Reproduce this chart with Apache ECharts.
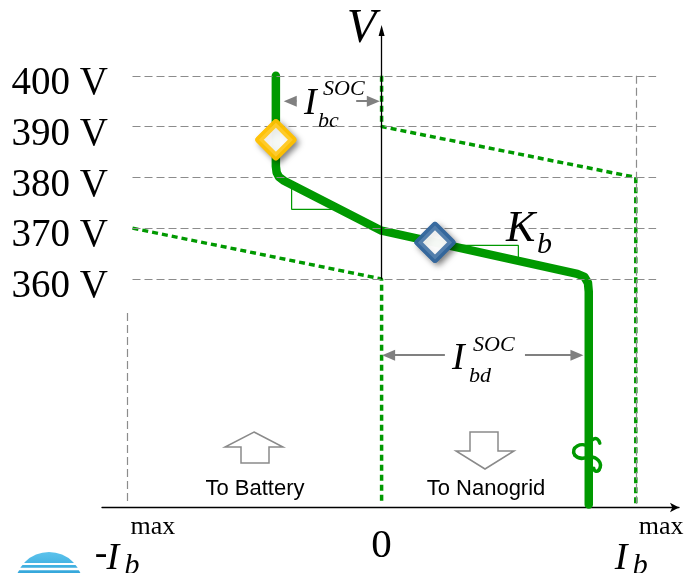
<!DOCTYPE html>
<html>
<head>
<meta charset="utf-8">
<script src="https://cdn.jsdelivr.net/npm/echarts@6/dist/echarts.min.js"></script>
<style>
  html, body { margin: 0; padding: 0; background: #fff; }
  #chart { width: 687px; height: 573px; }
</style>
</head>
<body>
<div id="chart"></div>
<script>
// Voltage tick values (V) and current ticks (±I_b^max normalised to ±100)
const voltTicks = [360, 370, 380, 390, 400];
const currentTicks = [-100, 0, 100];
const currentTickLabels = ['-I_b^max', '0', 'I_b^max'];

// Battery droop characteristic: current vs. bus voltage
const droopCurrent = [-41.6, -41.6, -41.3, -40.4, -38.6, 0, 77, 79.8, 81.2, 81.5, 81.5];
const droopVoltage = [400, 382.2, 381.0, 380.1, 379.4, 369.5, 361.0, 360.4, 359.2, 357.5, 315.6];

// Charging limit boundary (dotted, right)
const chargeLimitCurrent = [0, 0, 100, 100];
const chargeLimitVoltage = [400, 390, 380, 315.8];

// Discharging limit boundary (dotted, left)
const dischargeLimitCurrent = [-98, 0, 0];
const dischargeLimitVoltage = [370, 360, 315.8];

// Operating points (yellow, blue)
const opCurrent = [-41.6, 21];
const opVoltage = [387.4, 367.2];
const opColors = ['#FFC000', '#31659C'];

// Slope markers under the droop segments
const slopeUpperCurrent = [-35.4, -35.4, -16.8];
const slopeUpperVoltage = [378.6, 373.7, 373.7];
const slopeKbCurrent = [26, 53.8, 53.8];
const slopeKbVoltage = [366.6, 366.6, 363.5];

// Dimension arrows: [tail, tip] in current units, at a fixed voltage
const ibcVoltage = 395;
const ibcArrows = [[-33.5, -38.5], [-10, -0.7]];
const ibdVoltage = 345;
const ibdArrows = [[24.9, 0.2], [56.4, 79.4]];

// Guide extents
const guideLeft = -98, guideRight = 108;
const rightGuide = { current: 100, from: 400, to: 315.5 };
const leftGuide = { current: -100, from: 353.3, to: 315.5 };

const SERIF = '"Liberation Serif", "Times New Roman", serif';
const SANS = '"Liberation Sans", Arial, sans-serif';
const GREEN = '#009900';
const GUIDE_GRAY = '#8c8c8c';
const ARROW_GRAY = '#808080';
const PX_PER_UNIT = 577 / 227;
const HEAD = 13; // arrow head length in px

const zip = (xs, ys) => xs.map((x, i) => [x, ys[i]]);

const guideLines = voltTicks.map(v => [{ coord: [guideLeft, v] }, { coord: [guideRight, v] }])
  .concat([
    [{ coord: [rightGuide.current, rightGuide.from] }, { coord: [rightGuide.current, rightGuide.to] }],
    [{ coord: [leftGuide.current, leftGuide.from] }, { coord: [leftGuide.current, leftGuide.to] }]
  ]);

function dimArrows(list, v) {
  return list.map(([tail, tip]) => {
    const dir = Math.sign(tip - tail);
    const end = tip - dir * (HEAD / 2) / PX_PER_UNIT;
    return [{ coord: [tail, v] }, { coord: [end, v] }];
  });
}

function diamonds(withShadow) {
  return zip(opCurrent, opVoltage).map((p, i) => ({
    value: p,
    itemStyle: Object.assign({
      color: '#fff',
      borderColor: opColors[i],
      borderWidth: 7,
      borderJoin: 'round'
    }, withShadow ? {
      shadowBlur: 6, shadowColor: 'rgba(0,0,0,0.5)',
      shadowOffsetX: 3, shadowOffsetY: 3
    } : {})
  }));
}

const chart = echarts.init(document.getElementById('chart'), null, { renderer: 'canvas' });

const option = {
  animation: false,
  backgroundColor: '#fff',
  grid: { left: 102, right: 8, top: 25, bottom: 65.5, containLabel: false },
  xAxis: {
    type: 'value', min: -110, max: 117,
    axisLine: {
      show: true, onZero: false,
      lineStyle: { color: '#000', width: 1.3 },
      symbol: ['none', 'arrow'], symbolSize: [7, 9]
    },
    axisTick: { show: false },
    splitLine: { show: false },
    axisLabel: { show: false }
  },
  yAxis: {
    type: 'value', min: 315, max: 410,
    axisLine: { show: false },
    axisTick: { show: false },
    splitLine: { show: false },
    axisLabel: { show: false }
  },
  series: [
    {
      // dashed grey guides
      type: 'line', data: [], silent: true, z: 1,
      markLine: {
        silent: true, symbol: ['none', 'none'], animation: false,
        label: { show: false },
        lineStyle: { color: GUIDE_GRAY, width: 1.2, type: [8, 4] },
        emphasis: { disabled: true },
        data: guideLines
      }
    },
    {
      type: 'line', data: zip(slopeUpperCurrent, slopeUpperVoltage), silent: true, z: 2,
      showSymbol: false, symbol: 'none',
      lineStyle: { color: GREEN, width: 1.2 }
    },
    {
      type: 'line', data: zip(slopeKbCurrent, slopeKbVoltage), silent: true, z: 2,
      showSymbol: false, symbol: 'none',
      lineStyle: { color: GREEN, width: 1.2 }
    },
    {
      // voltage axis
      type: 'line', data: [], silent: true, z: 2,
      markLine: {
        silent: true, animation: false,
        symbol: ['none', 'triangle'], symbolSize: [6, 11],
        label: { show: false },
        lineStyle: { color: '#000', width: 1.3, type: 'solid' },
        emphasis: { disabled: true },
        data: [[{ coord: [0, 360] }, { coord: [0, 410 - 5.5 / 5.079] }]]
      }
    },
    {
      type: 'line', data: zip(chargeLimitCurrent, chargeLimitVoltage), silent: true, z: 3,
      showSymbol: false, symbol: 'none',
      lineStyle: { color: GREEN, width: 3.5, type: [6, 4] }
    },
    {
      type: 'line', data: zip(dischargeLimitCurrent, dischargeLimitVoltage), silent: true, z: 3,
      showSymbol: false, symbol: 'none',
      lineStyle: { color: GREEN, width: 3.5, type: [6, 4] }
    },
    {
      type: 'line', data: zip(droopCurrent, droopVoltage), silent: true, z: 4,
      showSymbol: false, symbol: 'none',
      lineStyle: { color: GREEN, width: 8.5, cap: 'round', join: 'round' }
    },
    {
      // dimension arrows
      type: 'line', data: [], silent: true, z: 5,
      markLine: {
        silent: true, animation: false,
        symbol: ['none', 'triangle'], symbolSize: [11, HEAD],
        label: { show: false },
        lineStyle: { color: ARROW_GRAY, width: 2, type: 'solid' },
        itemStyle: { color: ARROW_GRAY },
        emphasis: { disabled: true },
        data: dimArrows(ibcArrows, ibcVoltage).concat(dimArrows(ibdArrows, ibdVoltage))
      }
    },
    {
      // operating points: shadow layer
      type: 'scatter', silent: true, z: 6,
      symbol: 'diamond', symbolSize: 34,
      data: diamonds(true)
    },
    {
      // operating points: clean top layer
      type: 'scatter', silent: true, z: 7,
      symbol: 'diamond', symbolSize: 34,
      data: diamonds(false)
    }
  ]
};

chart.setOption(option);

const P = (x, v) => chart.convertToPixel({ gridIndex: 0 }, [x, v]);

function text(str, x, baseline, size, opt) {
  opt = opt || {};
  const font = (opt.italic ? 'italic ' : '') + size + 'px ' + (opt.family || SERIF);
  return {
    type: 'text', x: x, y: baseline - 0.285 * size, silent: true, z: 100,
    style: {
      text: str, fill: opt.color || '#000', font: font,
      align: opt.align || 'left', textAlign: opt.align || 'left',
      verticalAlign: 'middle', textVerticalAlign: 'middle'
    }
  };
}

const g = [];

// voltage tick labels
voltTicks.forEach(v => {
  const y = P(0, v)[1];
  g.push(text(v + ' V', 108, y + 19, 39, { align: 'right' }));
});

// axis name
g.push(text('V', 376, 43, 48, { italic: true, align: 'right' }));

// current tick labels
currentTicks.forEach((t, i) => {
  const x = P(t, 315)[0];
  const lab = currentTickLabels[i];
  if (lab === '0') {
    g.push(text('0', x, 558, 41, { align: 'center' }));
  } else {
    const neg = lab.charAt(0) === '-';
    if (neg) g.push(text('-', x - 20, 566, 38, { align: 'right' }));
    g.push(text('I', x - 21, 570, 38, { italic: true }));
    g.push(text('b', x - 3, 575, 30, { italic: true }));
    g.push(text('max', x + 3, 535, 26));
  }
});

// I_bc^SOC
g.push(text('I', 304, 115, 38, { italic: true }));
g.push(text('SOC', 323, 95, 22, { italic: true }));
g.push(text('bc', 318, 127, 22, { italic: true }));

// I_bd^SOC
g.push(text('I', 452, 370, 38, { italic: true }));
g.push(text('SOC', 473, 351, 22, { italic: true }));
g.push(text('bd', 469, 382, 22, { italic: true }));

// K_b
g.push(text('K', 506, 242, 44, { italic: true }));
g.push(text('b', 537, 254, 30, { italic: true }));

// flow direction arrows
const outline = { fill: '#fff', stroke: '#8a8a8a', lineWidth: 1.5 };
g.push({
  type: 'polygon', silent: true, z: 50,
  shape: { points: [[254, 432], [283, 447], [269, 447], [269, 463], [241, 463], [241, 447], [225, 447]] },
  style: outline
});
g.push({
  type: 'polygon', silent: true, z: 50,
  shape: { points: [[470, 432], [498, 432], [498, 451], [514, 451], [485, 469], [456, 451], [470, 451]] },
  style: outline
});
g.push(text('To Battery', 255, 495, 22, { family: SANS, align: 'center' }));
g.push(text('To Nanogrid', 486, 495, 22, { family: SANS, align: 'center' }));

// break mark on the discharge branch
const b = P(81.5, 325.5);
const bx = b[0], by = b[1];
const squiggle = [
  [[0, -7], [1, -16], [9, -19], [11, -11]],
  [[0, -7], [-7, -13], [-19, -7], [-14, 1]],
  [[-14, 1], [-10, 6], [-4, 4], [0, 3]],
  [[0, 3], [8, 2], [15, 9], [10, 16]],
  [[10, 16], [8, 18], [5, 17], [5, 14]]
];
squiggle.forEach(s => {
  g.push({
    type: 'bezierCurve', silent: true, z: 60,
    shape: {
      x1: bx + s[0][0], y1: by + s[0][1],
      cpx1: bx + s[1][0], cpy1: by + s[1][1],
      cpx2: bx + s[2][0], cpy2: by + s[2][1],
      x2: bx + s[3][0], y2: by + s[3][1]
    },
    style: { stroke: GREEN, lineWidth: 3.5, fill: null, lineCap: 'round' }
  });
});

// corner emblem
g.push({
  type: 'sector', silent: true, z: 40,
  shape: { cx: 49, cy: 586, r0: 0, r: 34, startAngle: Math.PI, endAngle: Math.PI * 2 },
  style: {
    fill: {
      type: 'linear', x: 0, y: 0, x2: 0, y2: 1,
      colorStops: [{ offset: 0, color: '#5cc3ec' }, { offset: 1, color: '#1c95d0' }]
    }
  }
});
[[564, 2], [569, 2.5]].forEach(([y, w]) => {
  g.push({
    type: 'line', silent: true, z: 41,
    shape: { x1: 14, y1: y, x2: 84, y2: y },
    style: { stroke: '#fff', lineWidth: w }
  });
});

chart.setOption({ graphic: { elements: g } });
</script>
</body>
</html>
